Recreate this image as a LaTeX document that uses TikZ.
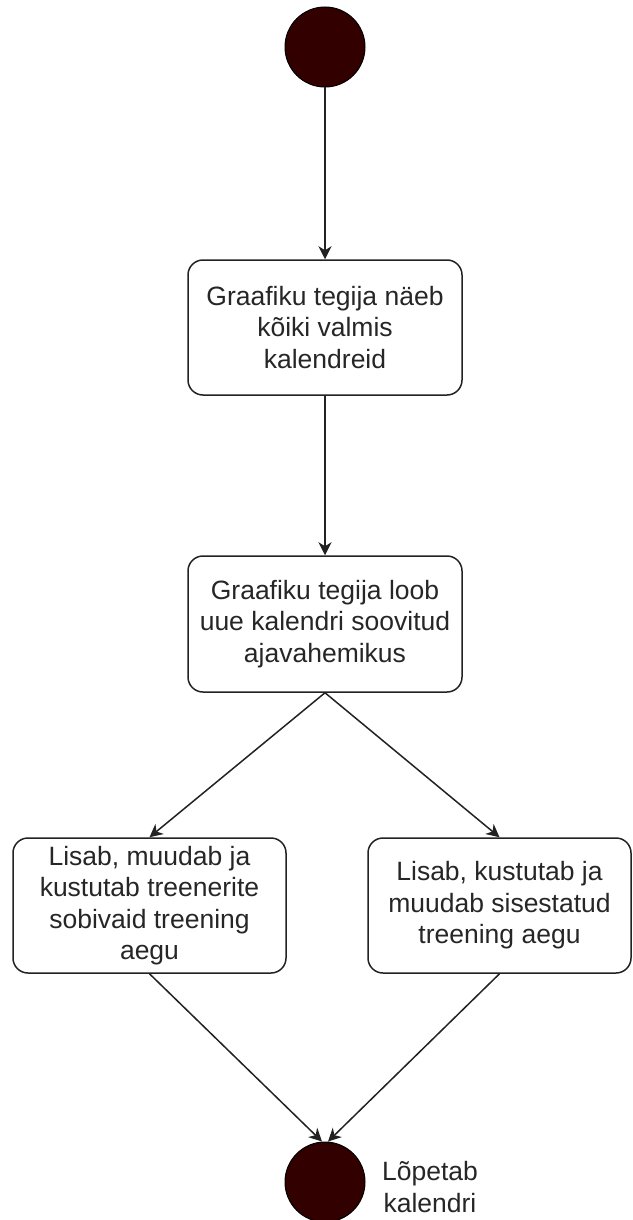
\documentclass[tikz,border=0pt]{standalone}
\usepackage{fontspec}
\setmainfont{Liberation Sans}
\usetikzlibrary{arrows.meta}
\definecolor{dotfill}{HTML}{330000}
\definecolor{edge}{HTML}{222222}
\definecolor{txt}{HTML}{262626}
\tikzset{
  dot/.style={circle, draw=black, line width=1pt, fill=dotfill, minimum size=80pt, inner sep=0pt},
  actbox/.style={draw=edge, line width=1.5pt, rounded corners=15pt, align=center, inner sep=0pt,
    text=txt, font=\fontsize{26.5pt}{31.5pt}\selectfont},
  conn/.style={draw=edge, line width=1.5pt, -{Stealth[length=13pt, width=13pt, inset=4pt]}},
  lbl/.style={align=center, text=txt, font=\fontsize{26.5pt}{31.5pt}\selectfont, inner sep=0pt}
}
\begin{document}
\begin{tikzpicture}[x=1pt, y=-1pt]
\useasboundingbox (0,0) rectangle (632,1220);
\node[dot] (start) at (325,47) {};
\node[actbox, minimum width=274pt, minimum height=135pt] (b1) at (325,327.5) {Graafiku tegija näeb\\kõiki valmis\\kalendreid};
\node[actbox, minimum width=274pt, minimum height=136pt] (b2) at (325,624) {Graafiku tegija loob\\uue kalendri soovitud\\ajavahemikus};
\node[actbox, minimum width=273pt, minimum height=135pt] (b3) at (149.5,905.5) {Lisab, muudab ja\\kustutab treenerite\\sobivaid treening\\aegu};
\node[actbox, minimum width=263pt, minimum height=135pt] (b4) at (499.5,905.5) {Lisab, kustutab ja\\muudab sisestatud\\treening aegu};
\node[dot] (end) at (325,1182) {};
\node[lbl] (endlbl) at (430,1187) {Lõpetab\\kalendri};
\draw[conn] (start) -- (b1);
\draw[conn] (b1) -- (b2);
\draw[conn] (b2.south) -- (b3.north);
\draw[conn] (b2.south) -- (b4.north);
\draw[conn] (b3.south) -- ([xshift=-3pt]end.north);
\draw[conn] (b4.south) -- ([xshift=3pt]end.north);
\end{tikzpicture}
\end{document}
